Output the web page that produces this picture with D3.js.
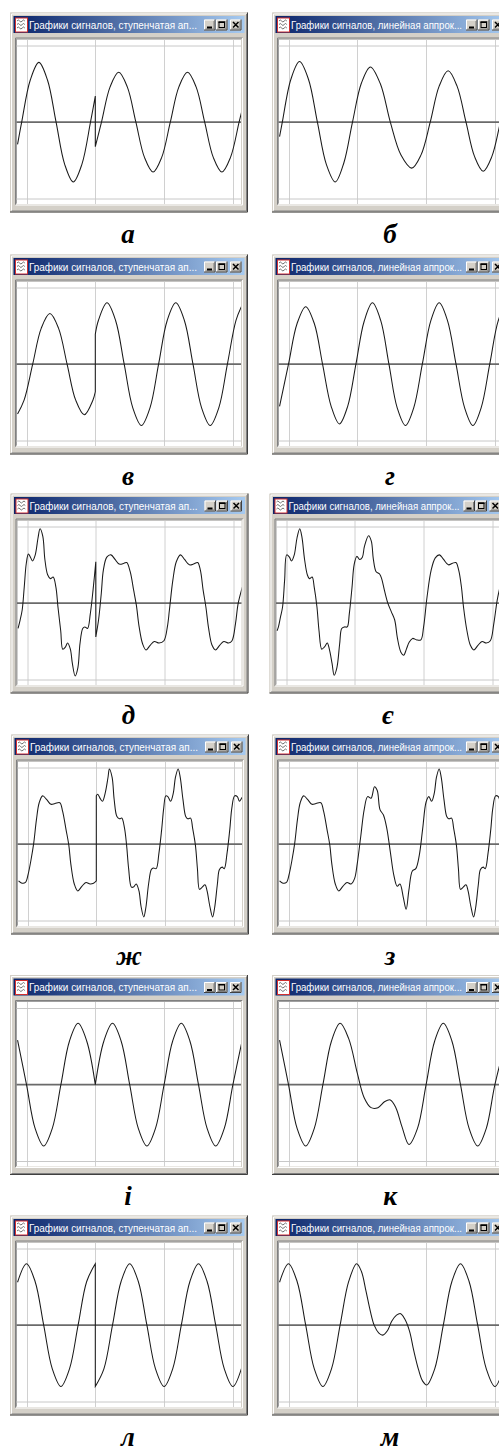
<!DOCTYPE html>
<html>
<head>
<meta charset="utf-8">
<script src="https://cdn.jsdelivr.net/npm/d3@7"></script>
<style>
  body { margin: 0; background: #fff; }
  svg { display: block; }
</style>
</head>
<body>
<div id="chart"></div>
<script>
// window titles
var titleStep = "Графики сигналов, ступенчатая ап...";
var titleLin = "Графики сигналов, линейная аппрок...";

// panel letters, in reading order
var labels = ["а", "б", "в", "г", "д", "є", "ж", "з", "і", "к", "л", "м"];

// grid positions (time in grid units, value in grid units)
var gridT = [0, 1, 2, 3];
var gridV = [1, -1];

// signals: each one is a list of segments, each segment a list of [t, v]
var sigA = [
  [[-0.13,-0.29],[-0.07,0],[0.055,0.55],[0.18,0.78],[0.305,0.55],[0.43,0],[0.555,-0.55],[0.68,-0.78],[0.805,-0.55],[0.93,0],[1.0,0.34]],
  [[1.0,-0.32],[1.09,0],[1.215,0.46],[1.34,0.65],[1.465,0.46],[1.59,0],[1.715,-0.46],[1.84,-0.65],[1.965,-0.46],[2.09,0],[2.215,0.46],[2.34,0.65],[2.465,0.46],[2.59,0],[2.715,-0.46],[2.84,-0.65],[2.965,-0.46],[3.09,0],[3.14,0.18]]
];
var sigB = [
  [[-0.13,-0.19],[-0.09,0],[0.035,0.56],[0.16,0.79],[0.29,0.56],[0.42,0],[0.55,-0.55],[0.68,-0.78],[0.805,-0.53],[0.93,0],[1.06,0.51],[1.19,0.72],[1.335,0.50],[1.48,0],[1.635,-0.43],[1.79,-0.60],[1.925,-0.43],[2.06,0],[2.19,0.47],[2.32,0.67],[2.45,0.47],[2.58,0],[2.705,-0.45],[2.83,-0.64],[2.955,-0.45],[3.08,0],[3.2,0.45]]
];
var sigV = [
  [[-0.13,-0.65],[-0.035,-0.47],[0.09,0],[0.215,0.47],[0.34,0.66],[0.465,0.47],[0.59,0],[0.715,-0.47],[0.84,-0.66],[0.965,-0.47],[1.0,-0.36]],
  [[1.0,0.39],[1.045,0.57],[1.17,0.80],[1.295,0.57],[1.42,0],[1.545,-0.57],[1.67,-0.80],[1.795,-0.57],[1.92,0],[2.045,0.57],[2.17,0.80],[2.295,0.57],[2.42,0],[2.545,-0.57],[2.67,-0.80],[2.795,-0.57],[2.92,0],[3.045,0.57],[3.14,0.78]]
];
var sigG = [
  [[-0.13,-0.55],[0.0,0],[0.125,0.53],[0.25,0.75],[0.375,0.53],[0.495,0],[0.62,-0.55],[0.74,-0.78],[0.86,-0.55],[0.98,0],[1.10,0.56],[1.22,0.80],[1.34,0.57],[1.46,0],[1.58,-0.57],[1.70,-0.80],[1.82,-0.57],[1.945,0],[2.07,0.57],[2.19,0.80],[2.31,0.57],[2.435,0],[2.56,-0.57],[2.68,-0.80],[2.80,-0.57],[2.925,0],[3.05,0.57],[3.17,0.80],[3.22,0.76]]
];
var sigD = [
  [[-0.13,-0.33],[-0.10,-0.22],[-0.07,-0.09],[-0.04,0.21],[-0.01,0.52],[0.02,0.64],[0.05,0.60],[0.08,0.55],[0.12,0.63],[0.16,0.85],[0.19,0.97],[0.23,0.87],[0.26,0.57],[0.30,0.37],[0.34,0.32],[0.38,0.34],[0.42,0.21],[0.45,-0.05],[0.49,-0.36],[0.52,-0.60],[0.56,-0.57],[0.59,-0.52],[0.63,-0.60],[0.66,-0.79],[0.70,-0.95],[0.74,-0.84],[0.77,-0.53],[0.81,-0.33],[0.84,-0.31],[0.88,-0.33],[0.92,-0.14],[0.96,0.17],[1.0,0.54]],
  [[1.0,-0.44],[1.04,-0.22],[1.08,0.13],[1.11,0.43],[1.16,0.60],[1.22,0.63],[1.28,0.57],[1.34,0.51],[1.41,0.52],[1.45,0.53],[1.50,0.41],[1.55,0.17],[1.59,-0.03],[1.63,-0.31],[1.68,-0.53],[1.73,-0.61],[1.79,-0.55],[1.85,-0.50],[1.92,-0.52],[1.99,-0.49],[2.04,-0.31],[2.07,-0.09],[2.12,0.30],[2.17,0.54],[2.23,0.63],[2.29,0.57],[2.36,0.50],[2.42,0.51],[2.48,0.53],[2.52,0.43],[2.56,0.17],[2.60,-0.05],[2.64,-0.33],[2.69,-0.55],[2.74,-0.61],[2.80,-0.55],[2.86,-0.50],[2.93,-0.52],[2.98,-0.49],[3.03,-0.27],[3.07,0],[3.14,0.24]]
];
var sigE = [
  [[-0.13,-0.36],[-0.11,-0.31],[-0.08,-0.18],[-0.05,-0.05],[-0.02,0.30],[0.01,0.63],[0.05,0.60],[0.08,0.55],[0.12,0.63],[0.16,0.85],[0.20,0.97],[0.23,0.87],[0.27,0.57],[0.31,0.37],[0.34,0.32],[0.38,0.34],[0.41,0.21],[0.45,-0.05],[0.48,-0.36],[0.52,-0.60],[0.56,-0.57],[0.60,-0.52],[0.63,-0.60],[0.67,-0.79],[0.70,-0.94],[0.74,-0.84],[0.78,-0.53],[0.81,-0.33],[0.85,-0.31],[0.89,-0.31],[0.92,-0.14],[0.96,0.21],[0.99,0.50],[1.03,0.61],[1.07,0.57],[1.11,0.60],[1.14,0.74],[1.20,0.88],[1.24,0.81],[1.27,0.57],[1.31,0.41],[1.36,0.38],[1.39,0.32],[1.43,0.17],[1.48,0],[1.53,-0.11],[1.58,-0.22],[1.62,-0.46],[1.67,-0.64],[1.71,-0.68],[1.75,-0.60],[1.79,-0.51],[1.84,-0.46],[1.90,-0.48],[1.96,-0.48],[2.0,-0.31],[2.05,0.08],[2.11,0.43],[2.17,0.59],[2.23,0.63],[2.29,0.57],[2.36,0.50],[2.42,0.52],[2.47,0.53],[2.51,0.43],[2.55,0.21],[2.58,-0.05],[2.63,-0.36],[2.68,-0.55],[2.73,-0.61],[2.79,-0.55],[2.85,-0.50],[2.91,-0.52],[2.97,-0.49],[3.02,-0.27],[3.07,0.04],[3.11,0.21],[3.2,0.55]]
];
var sigZh = [
  [[-0.13,-0.48],[-0.08,-0.51],[-0.03,-0.50],[0.01,-0.39],[0.05,-0.21],[0.09,0.01],[0.13,0.32],[0.17,0.54],[0.22,0.63],[0.28,0.58],[0.34,0.52],[0.40,0.53],[0.47,0.54],[0.51,0.43],[0.56,0.19],[0.60,-0.01],[0.63,-0.26],[0.68,-0.52],[0.73,-0.61],[0.79,-0.55],[0.85,-0.50],[0.91,-0.52],[0.96,-0.51],[1.0,-0.48]],
  [[1.0,0.63],[1.02,0.65],[1.06,0.59],[1.09,0.56],[1.13,0.67],[1.17,0.87],[1.19,0.98],[1.23,0.87],[1.26,0.58],[1.30,0.36],[1.34,0.33],[1.37,0.34],[1.41,0.21],[1.44,-0.01],[1.47,-0.32],[1.51,-0.56],[1.54,-0.56],[1.58,-0.52],[1.62,-0.61],[1.65,-0.81],[1.69,-0.95],[1.72,-0.83],[1.76,-0.52],[1.80,-0.33],[1.83,-0.31],[1.87,-0.32],[1.91,-0.12],[1.95,0.19],[1.98,0.47],[2.01,0.63],[2.04,0.62],[2.08,0.56],[2.12,0.67],[2.15,0.87],[2.19,0.98],[2.22,0.87],[2.26,0.58],[2.30,0.36],[2.33,0.33],[2.37,0.34],[2.40,0.21],[2.44,-0.01],[2.47,-0.32],[2.50,-0.59],[2.54,-0.56],[2.58,-0.53],[2.61,-0.61],[2.65,-0.81],[2.69,-0.95],[2.72,-0.83],[2.76,-0.52],[2.79,-0.33],[2.83,-0.30],[2.86,-0.32],[2.90,-0.12],[2.94,0.19],[2.97,0.47],[3.01,0.63],[3.05,0.62],[3.08,0.56],[3.12,0.61],[3.14,0.62]]
];
var sigZ = [
  [[-0.13,-0.48],[-0.08,-0.51],[-0.03,-0.50],[0.01,-0.39],[0.05,-0.21],[0.09,0.01],[0.13,0.32],[0.17,0.54],[0.22,0.63],[0.28,0.58],[0.34,0.52],[0.40,0.53],[0.47,0.54],[0.51,0.43],[0.56,0.19],[0.60,-0.01],[0.63,-0.26],[0.68,-0.52],[0.73,-0.61],[0.79,-0.55],[0.85,-0.50],[0.91,-0.52],[0.96,-0.45],[1.0,-0.25],[1.05,0.10],[1.10,0.45],[1.15,0.62],[1.20,0.60],[1.25,0.75],[1.29,0.70],[1.33,0.45],[1.38,0.38],[1.43,0.20],[1.48,-0.10],[1.53,-0.40],[1.58,-0.55],[1.62,-0.52],[1.67,-0.70],[1.71,-0.85],[1.75,-0.60],[1.80,-0.35],[1.85,-0.32],[1.90,-0.15],[1.95,0.20],[2.0,0.55],[2.04,0.62],[2.08,0.56],[2.12,0.67],[2.15,0.87],[2.19,0.98],[2.22,0.87],[2.26,0.58],[2.30,0.36],[2.33,0.33],[2.37,0.34],[2.40,0.21],[2.44,-0.01],[2.47,-0.32],[2.50,-0.59],[2.54,-0.56],[2.58,-0.53],[2.61,-0.61],[2.65,-0.81],[2.69,-0.95],[2.72,-0.83],[2.76,-0.52],[2.79,-0.33],[2.83,-0.30],[2.86,-0.32],[2.90,-0.12],[2.94,0.19],[2.97,0.47],[3.01,0.63],[3.05,0.62],[3.08,0.56],[3.12,0.61],[3.2,0.8]]
];
var sigI = [
  [[-0.13,0.58],[0,0],[0.125,-0.57],[0.25,-0.80],[0.375,-0.57],[0.5,0],[0.625,0.57],[0.75,0.80],[0.875,0.57],[1.0,0]],
  [[1.0,0],[1.125,0.57],[1.25,0.80],[1.375,0.57],[1.5,0],[1.625,-0.57],[1.75,-0.80],[1.875,-0.57],[2.0,0],[2.125,0.57],[2.25,0.80],[2.375,0.57],[2.5,0],[2.625,-0.57],[2.75,-0.80],[2.875,-0.57],[3.0,0],[3.14,0.60]]
];
var sigK = [
  [[-0.13,0.58],[0,0],[0.125,-0.57],[0.25,-0.80],[0.375,-0.57],[0.5,0],[0.625,0.57],[0.75,0.80],[0.875,0.60],[1.0,0.15],[1.1,-0.17],[1.2,-0.30],[1.3,-0.30],[1.4,-0.22],[1.48,-0.20],[1.56,-0.30],[1.65,-0.55],[1.75,-0.78],[1.875,-0.57],[2.0,0],[2.125,0.57],[2.25,0.80],[2.375,0.57],[2.5,0],[2.625,-0.57],[2.75,-0.80],[2.875,-0.57],[3.0,0],[3.2,0.7]]
];
var sigL = [
  [[-0.13,0.56],[0,0.80],[0.125,0.57],[0.25,0],[0.375,-0.57],[0.5,-0.80],[0.625,-0.57],[0.75,0],[0.875,0.57],[1.0,0.80]],
  [[1.0,-0.80],[1.125,-0.57],[1.25,0],[1.375,0.57],[1.5,0.80],[1.625,0.57],[1.75,0],[1.875,-0.57],[2.0,-0.80],[2.125,-0.57],[2.25,0],[2.375,0.57],[2.5,0.80],[2.625,0.57],[2.75,0],[2.875,-0.57],[3.0,-0.80],[3.14,-0.52]]
];
var sigM = [
  [[-0.13,0.56],[0,0.80],[0.125,0.57],[0.25,0],[0.375,-0.57],[0.5,-0.80],[0.625,-0.57],[0.75,0],[0.875,0.57],[0.99,0.80],[1.06,0.70],[1.125,0.45],[1.19,0.18],[1.245,0],[1.31,-0.10],[1.37,-0.13],[1.44,-0.07],[1.5,0.05],[1.57,0.13],[1.63,0.15],[1.69,0.08],[1.76,-0.08],[1.82,-0.33],[1.89,-0.58],[1.95,-0.73],[2.01,-0.78],[2.125,-0.57],[2.25,0],[2.375,0.57],[2.5,0.80],[2.625,0.57],[2.75,0],[2.875,-0.57],[3.0,-0.80],[3.14,-0.52]]
];

var signals = [sigA, sigB, sigV, sigG, sigD, sigE, sigZh, sigZ, sigI, sigK, sigL, sigM];

// window placement on the page (left edge, top edge)
var winX = [10, 272, 10, 272, 10.5, 269.5, 11, 272, 10, 272, 10, 272];
var winY = [12.5, 12.5, 254.5, 254.5, 493.5, 493.5, 734.5, 734.5, 975, 975, 1215.5, 1215.5];

var W = 238, H = 200;
var face = "#d4d0c8";

var svg = d3.select("#chart").append("svg")
    .attr("width", 499)
    .attr("height", 1452)
    .style("font-family", "'Liberation Sans', Arial, sans-serif");

var defs = svg.append("defs");
var grad = defs.append("linearGradient").attr("id", "titleGrad");
grad.append("stop").attr("offset", "0%").attr("stop-color", "#0a246a");
grad.append("stop").attr("offset", "100%").attr("stop-color", "#a6caf0");

defs.append("clipPath").attr("id", "plotClip")
  .append("rect")
    .attr("x", 6.5).attr("y", 27)
    .attr("width", 224.5).attr("height", 164.5);

// scales shared by all windows (window-local coordinates)
var x = d3.scaleLinear().domain([0, 3]).range([16.5, 16.5 + 3 * 68.8]);
var y = d3.scaleLinear().domain([1, -1]).range([33, 186.3]);

var line = d3.line()
    .x(function(d) { return x(d[0]); })
    .y(function(d) { return y(d[1]); })
    .curve(d3.curveCatmullRom.alpha(0.5));

signals.forEach(function(sig, i) {
    var g = svg.append("g")
        .attr("transform", "translate(" + winX[i] + "," + winY[i] + ")");
    var linear = i % 2 === 1;

    // window frame
    g.append("rect").attr("width", W).attr("height", H).attr("fill", face);
    g.append("path").attr("d", "M0.5," + (H - 0.5) + "V0.5H" + (W - 0.5))
        .attr("fill", "none").attr("stroke", face);
    g.append("path").attr("d", "M1.5," + (H - 1.5) + "V1.5H" + (W - 1.5))
        .attr("fill", "none").attr("stroke", "#fff");
    g.append("path").attr("d", "M0," + (H - 0.5) + "H" + (W - 0.5) + "V0")
        .attr("fill", "none").attr("stroke", "#404040");
    g.append("path").attr("d", "M1.5," + (H - 1.5) + "H" + (W - 1.5) + "V1.5")
        .attr("fill", "none").attr("stroke", "#808080");

    // title bar
    g.append("rect").attr("x", 3.5).attr("y", 3.5).attr("width", 231).attr("height", 17)
        .attr("fill", "url(#titleGrad)");
    // icon
    var ic = g.append("g").attr("transform", "translate(5,5)");
    ic.append("rect").attr("x", 0.5).attr("y", 0.5).attr("width", 12).attr("height", 14)
        .attr("fill", "#fff").attr("stroke", "#d03030");
    [3.5, 7, 10.5].forEach(function(yy) {
        ic.append("path")
            .attr("d", "M2," + yy + "q1.3,-2 2.6,0t2.6,0t2.6,0")
            .attr("fill", "none").attr("stroke", "#606060").attr("stroke-width", 0.9);
    });
    g.append("text")
        .attr("x", 19).attr("y", 16.3)
        .attr("fill", "#fff")
        .attr("font-size", 11.5)
        .attr("textLength", linear ? 171 : 168)
        .attr("lengthAdjust", "spacingAndGlyphs")
        .text(linear ? titleLin : titleStep);

    // caption buttons
    var btns = [[194, "min"], [206, "max"], [220, "close"]];
    btns.forEach(function(b) {
        var bx = b[0], by = 7, bw = 11.5, bh = 11;
        var bg = g.append("g").attr("transform", "translate(" + bx + "," + by + ")");
        bg.append("rect").attr("width", bw).attr("height", bh).attr("fill", face);
        bg.append("path").attr("d", "M0.5," + (bh - 0.5) + "V0.5H" + (bw - 0.5))
            .attr("fill", "none").attr("stroke", "#fff");
        bg.append("path").attr("d", "M0," + (bh - 0.5) + "H" + (bw - 0.5) + "V0")
            .attr("fill", "none").attr("stroke", "#404040");
        bg.append("path").attr("d", "M1.5," + (bh - 1.5) + "H" + (bw - 1.5) + "V1.5")
            .attr("fill", "none").attr("stroke", "#808080");
        if (b[1] === "min") {
            bg.append("rect").attr("x", 3).attr("y", 7).attr("width", 5).attr("height", 2).attr("fill", "#000");
        } else if (b[1] === "max") {
            bg.append("rect").attr("x", 3).attr("y", 2.5).attr("width", 5.5).attr("height", 5.5)
                .attr("fill", "none").attr("stroke", "#000");
            bg.append("rect").attr("x", 2.5).attr("y", 2).attr("width", 6.5).attr("height", 1.5).attr("fill", "#000");
        } else {
            bg.append("path").attr("d", "M3,2.5L8.5,8M8.5,2.5L3,8")
                .attr("stroke", "#000").attr("stroke-width", 1.5);
        }
    });

    // sunken plot frame
    g.append("path").attr("d", "M5.5,192.5V25.5H232.5")
        .attr("fill", "none").attr("stroke", "#808080");
    g.append("path").attr("d", "M5.5,192.5H232.5V25.5")
        .attr("fill", "none").attr("stroke", "#fff");
    g.append("rect").attr("x", 6.5).attr("y", 27).attr("width", 224.5).attr("height", 164.5)
        .attr("fill", "#fff");
    g.append("path").attr("d", "M6.5,191V26.5H231")
        .attr("fill", "none").attr("stroke", "#a0a0a0");

    var plot = g.append("g").attr("clip-path", "url(#plotClip)");

    // grid
    plot.selectAll(".gx").data(gridT).enter().append("line")
        .attr("x1", function(d) { return Math.round(x(d)) + 0.5; })
        .attr("x2", function(d) { return Math.round(x(d)) + 0.5; })
        .attr("y1", 27).attr("y2", 192)
        .attr("stroke", "#d0d0d0");
    plot.selectAll(".gy").data(gridV).enter().append("line")
        .attr("x1", 6).attr("x2", 232)
        .attr("y1", function(d) { return Math.round(y(d)) + 0.5; })
        .attr("y2", function(d) { return Math.round(y(d)) + 0.5; })
        .attr("stroke", "#c8c8c8");
    plot.append("line")
        .attr("x1", 6).attr("x2", 232)
        .attr("y1", y(0)).attr("y2", y(0))
        .attr("stroke", "#6a6a6a").attr("stroke-width", 1.6);

    // signal: segments joined by a vertical jump
    var d = sig.map(function(seg, k) {
        var p = line(seg);
        return k === 0 ? p : p.replace(/^M/, "L");
    }).join("");
    plot.append("path")
        .attr("d", d)
        .attr("fill", "none")
        .attr("stroke", "#1a1a1a")
        .attr("stroke-width", 1.05);

    // panel letter
    g.append("text")
        .attr("x", 118).attr("y", 230)
        .attr("text-anchor", "middle")
        .attr("font-family", "'Liberation Serif', 'Times New Roman', serif")
        .attr("font-style", "italic")
        .attr("font-weight", "bold")
        .attr("font-size", 27)
        .attr("fill", "#000")
        .text(labels[i]);
});
</script>
</body>
</html>
